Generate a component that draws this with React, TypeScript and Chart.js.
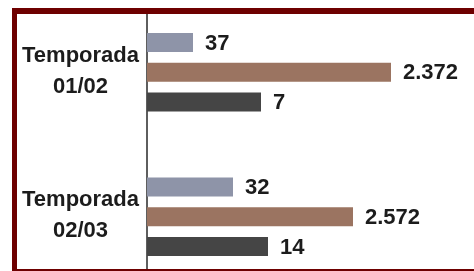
import React, { useEffect, useRef } from "react";
import { Chart, registerables } from "chart.js";

Chart.register(...registerables);

// Categories (two-line tick labels)
const categories: string[][] = [
  ["Temporada", "01/02"],
  ["Temporada", "02/03"],
];

// Bar lengths as drawn in the picture (arbitrary units, the source is not to scale)
const seriesA: number[] = [46, 86];
const seriesB: number[] = [244, 206];
const seriesC: number[] = [114, 121];

// Printed value labels
const labelsA: string[] = ["37", "32"];
const labelsB: string[] = ["2.372", "2.572"];
const labelsC: string[] = ["7", "14"];

const seriesColors = ["#8e94a8", "#9b7461", "#454545"];
const FONT = "'Liberation Sans', Arial, sans-serif";

const valueLabelPlugin = {
  id: "valueLabels",
  afterDatasetsDraw(chart: any) {
    const ctx = chart.ctx;
    const allLabels = [labelsA, labelsB, labelsC];
    ctx.save();
    ctx.font = `bold 22px ${FONT}`;
    ctx.fillStyle = "#1c1c1c";
    ctx.textBaseline = "middle";
    ctx.textAlign = "left";
    chart.data.datasets.forEach((_ds: any, di: number) => {
      const meta = chart.getDatasetMeta(di);
      meta.data.forEach((bar: any, i: number) => {
        ctx.fillText(allLabels[di][i], bar.x + 12, bar.y + 1);
      });
    });
    ctx.restore();
  },
};

export default function App() {
  const canvasRef = useRef<HTMLCanvasElement | null>(null);

  useEffect(() => {
    if (!canvasRef.current) return;
    const chart = new Chart(canvasRef.current, {
      type: "bar",
      data: {
        labels: categories,
        datasets: [
          { label: "A", data: seriesA, backgroundColor: seriesColors[0] },
          { label: "B", data: seriesB, backgroundColor: seriesColors[1] },
          { label: "C", data: seriesC, backgroundColor: seriesColors[2] },
        ],
      },
      options: {
        indexAxis: "y",
        animation: false,
        responsive: false,
        devicePixelRatio: 1,
        layout: { padding: 0 },
        categoryPercentage: 0.617,
        barPercentage: 0.64,
        plugins: {
          legend: { display: false },
          tooltip: { enabled: false },
        },
        scales: {
          x: {
            display: false,
            min: 0,
            max: 327,
          },
          y: {
            offset: true,
            grid: { display: false, drawTicks: false },
            border: { display: true, color: "#5e5e5e", width: 2 },
            ticks: {
              color: "#1c1c1c",
              font: { family: FONT, size: 22, weight: "bold", lineHeight: 1.4 },
              crossAlign: "center",
              padding: 8,
              labelOffset: -1,
            },
            afterFit: (scale: any) => {
              scale.width = 147;
              scale.paddingTop = 0;
              scale.paddingBottom = 0;
            },
          },
        },
      } as any,
      plugins: [valueLabelPlugin],
    });
    return () => chart.destroy();
  }, []);

  return (
    <div
      style={{
        position: "fixed",
        left: 0,
        top: 0,
        width: 474,
        height: 271,
        overflow: "hidden",
        background: "#ffffff",
      }}
    >
      <div
        style={{
          position: "absolute",
          left: 0,
          top: 8,
          width: 474,
          height: 263,
          overflow: "hidden",
        }}
      >
        <canvas
          ref={canvasRef}
          width={474}
          height={289}
          style={{ position: "absolute", left: 0, top: -8, width: 474, height: 289, display: "block" }}
        />
      </div>
      <div
        style={{
          position: "absolute",
          left: 12,
          top: 8,
          width: 480,
          height: 267,
          boxSizing: "border-box",
          borderStyle: "solid",
          borderColor: "#6e0000",
          borderWidth: "6px 0 6px 5px",
          pointerEvents: "none",
        }}
      />
    </div>
  );
}
